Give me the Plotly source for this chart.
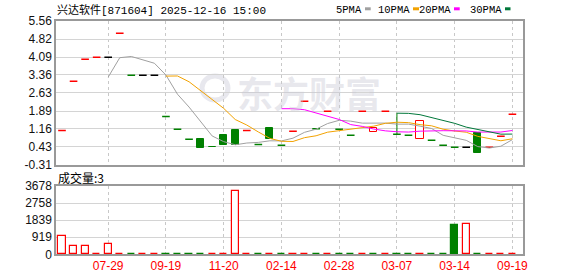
import plotly.graph_objects as go
import pandas as pd

# ---------------- data ----------------
tick_pos = [4, 9, 14, 19, 24, 29, 34, 39]
tick_labels = ["07-29", "09-19", "11-20", "02-14", "02-28", "03-07", "03-14", "09-19"]

opens = [1.10, 3.10, 4.00, 4.08, 4.08, 5.06, 3.35, 3.35, 3.35, 1.67,
         1.15, 0.74, 0.75, 0.42, 0.91, 1.12, 1.10, 0.53, 1.20, 0.49,
         1.07, 2.29, 1.17, 1.88, 1.15, 0.90, 1.88, 1.02, 1.88, 0.94,
         0.90, 0.74, 0.70, 0.49, 0.41, 0.41, 1.00, 0.41, 0.86, 1.76]
closes = [1.10, 3.10, 4.00, 4.08, 4.08, 5.06, 3.35, 3.35, 3.35, 1.67,
          1.15, 0.74, 0.40, 0.41, 0.51, 0.51, 1.10, 0.53, 0.73, 0.49,
          1.07, 2.29, 1.17, 1.88, 1.15, 0.90, 1.88, 1.18, 1.88, 0.94,
          0.90, 1.47, 0.70, 0.49, 0.41, 0.41, 0.19, 0.41, 0.86, 1.76]
highs = [max(o, c) for o, c in zip(opens, closes)]
highs[29] = 1.80
lows = [min(o, c) for o, c in zip(opens, closes)]
volumes = [970, 450, 450, 4, 560, 5, 3, 4, 2, 6,
           5, 4, 6, 3, 5, 3390, 4, 3, 6, 4,
           5, 6, 3, 4, 3, 2, 4, 6, 3, 5,
           3, 6, 4, 5, 1580, 1630, 6, 4, 3, 3]

price_ticks = ["5.56", "4.82", "4.09", "3.36", "2.63", "1.89", "1.16", "0.43", "-0.31"]
vol_ticks = ["0", "919", "1839", "2758", "3678"]

title_text = "兴达软件[871604] 2025-12-16 15:00"
vol_label = "成交量:3"
ma_periods = [5, 10, 20, 30]
ma_names = ["5PMA", "10PMA", "20PMA", "30PMA"]

# ---------------- styles ----------------
RED = "#ff0000"
GREEN = "#008000"
BLACK = "#000000"
MA_COLORS = ["#a0a0a0", "#f2a200", "#ff00ff", "#00773a"]
W, H = 578, 276
X0, X1 = 56, 522.7
MAIN_T, MAIN_B = 21, 165
VOL_T, VOL_B = 186, 254.3
n = len(closes)
idx = list(range(n))

def px_x(p):
    return p / W

def px_y(p):
    return 1 - p / H

# direction of each candle
body_dir = []
for i in range(n):
    o, c = opens[i], closes[i]
    prev = closes[i - 1] if i > 0 else None
    if c > o:
        body_dir.append("up")
    elif c < o:
        body_dir.append("down")
    else:
        if prev is None or c > prev:
            body_dir.append("dup")
        elif c < prev:
            body_dir.append("ddown")
        else:
            body_dir.append("dflat")

vol_up = [True if i == 0 else closes[i] >= closes[i - 1] for i in range(n)]

fig = go.Figure()

# wicks
wx, wy = [], []
for i in range(n):
    if highs[i] > max(opens[i], closes[i]) or lows[i] < min(opens[i], closes[i]):
        wx += [i, i, None]
        wy += [lows[i], highs[i], None]
fig.add_trace(go.Scatter(x=wx, y=wy, mode="lines", line=dict(color=GREEN, width=1),
                         xaxis="x", yaxis="y", hoverinfo="skip", showlegend=False))

# bodies (non-doji)
bx, bbase, bh, bfill, bline = [], [], [], [], []
for i in range(n):
    if body_dir[i] in ("up", "down"):
        bx.append(i)
        bbase.append(min(opens[i], closes[i]))
        bh.append(abs(closes[i] - opens[i]))
        up = body_dir[i] == "up"
        bfill.append("#ffffff" if up else GREEN)
        bline.append(RED if up else GREEN)
fig.add_trace(go.Bar(x=bx, y=bh, base=bbase, width=0.62,
                     marker=dict(color=bfill, line=dict(color=bline, width=1)),
                     xaxis="x", yaxis="y", hoverinfo="skip", showlegend=False))

# doji dashes
for key, col in (("dup", RED), ("ddown", GREEN), ("dflat", BLACK)):
    dx, dy = [], []
    for i in range(n):
        if body_dir[i] == key:
            dx += [i - 0.33, i + 0.33, None]
            dy += [closes[i], closes[i], None]
    fig.add_trace(go.Scatter(x=dx, y=dy, mode="lines", line=dict(color=col, width=1.5),
                             xaxis="x", yaxis="y", hoverinfo="skip", showlegend=False))

# moving averages
s = pd.Series(closes)
for p, col in zip(ma_periods, MA_COLORS):
    ma = s.rolling(p).mean()
    fig.add_trace(go.Scatter(x=idx, y=[None if pd.isna(v) else v for v in ma],
                             mode="lines", line=dict(color=col, width=1),
                             xaxis="x", yaxis="y", hoverinfo="skip", showlegend=False))

# volume
fig.add_trace(go.Bar(x=idx, y=volumes, width=0.62,
                     marker=dict(color=["#ffffff" if u else GREEN for u in vol_up],
                                 line=dict(color=[RED if u else GREEN for u in vol_up], width=1.2)),
                     xaxis="x2", yaxis="y2", hoverinfo="skip", showlegend=False))

axis_common = dict(showline=True, mirror=True, linecolor="#999999", linewidth=1.5,
                   zeroline=False, fixedrange=True, automargin=False)
xdom = [px_x(X0), px_x(X1)]
xrange = [-0.52, 39.89]

fig.update_layout(
    width=W, height=H, margin=dict(l=0, r=0, t=0, b=0, autoexpand=False),
    paper_bgcolor="white", plot_bgcolor="rgba(0,0,0,0)",
    showlegend=False, bargap=0, barmode="overlay",
    xaxis=dict(domain=xdom, range=xrange, anchor="y", tickvals=tick_pos,
               showticklabels=False, showgrid=True, gridcolor="#c8c8c8",
               griddash="3px,3px", gridwidth=1, ticks="", **axis_common),
    yaxis=dict(domain=[px_y(MAIN_B), px_y(MAIN_T)], range=[-0.31, 5.56], anchor="x",
               tickvals=[float(t) for t in price_ticks], ticktext=price_ticks,
               showgrid=True, gridcolor="#d4d4d4", gridwidth=1, ticks="",
               tickfont=dict(family="Liberation Sans, Arial", size=12, color="#111111"),
               **axis_common),
    xaxis2=dict(domain=xdom, range=xrange, anchor="y2", tickvals=tick_pos,
                ticktext=tick_labels, showgrid=True, gridcolor="#c8c8c8",
                griddash="3px,3px", gridwidth=1, ticks="",
                tickfont=dict(family="Liberation Sans, Arial", size=12, color=RED),
                **axis_common),
    yaxis2=dict(domain=[px_y(VOL_B), px_y(VOL_T)], range=[0, 3678], anchor="x2",
                tickvals=[float(t) for t in vol_ticks], ticktext=vol_ticks,
                showgrid=True, gridcolor="#d4d4d4", gridwidth=1, ticks="",
                tickfont=dict(family="Liberation Sans, Arial", size=12, color="#111111"),
                **axis_common),
)

annotations = [
    dict(text=title_text, x=px_x(55), y=px_y(10), xref="paper", yref="paper",
         xanchor="left", yanchor="middle", showarrow=False,
         font=dict(family="Liberation Mono, Noto Sans CJK SC", size=11, color="#000")),
    dict(text=vol_label, x=px_x(56), y=px_y(177.5), xref="paper", yref="paper",
         xanchor="left", yanchor="middle", showarrow=False,
         font=dict(family="Noto Sans CJK SC", size=12, color="#000")),
    # watermark text
    dict(text="<b>东方财富</b>", x=px_x(309), y=px_y(92), xref="paper", yref="paper",
         xanchor="center", yanchor="middle", showarrow=False,
         font=dict(family="Noto Sans CJK SC", size=36, color="rgba(200,200,212,0.42)")),
]
legend_text_end = [364, 411.5, 453, 503.5]
legend_sw_x = [(365, 370.7), (413, 419), (454, 459.7), (505, 510.5)]
shapes = []
for name, tx, (sx0, sx1), col in zip(ma_names, legend_text_end, legend_sw_x, MA_COLORS):
    annotations.append(dict(text=name, x=px_x(tx), y=px_y(9.5), xref="paper", yref="paper",
                            xanchor="right", yanchor="middle", showarrow=False,
                            font=dict(family="Liberation Mono", size=10.5, color="#000")))
    shapes.append(dict(type="rect", xref="paper", yref="paper",
                       x0=px_x(sx0), x1=px_x(sx1), y0=px_y(10.3), y1=px_y(7.3),
                       fillcolor=col, line=dict(width=0)))

# watermark logo
shapes.append(dict(type="circle", xref="paper", yref="paper", layer="below",
                   x0=px_x(202), x1=px_x(228), y0=px_y(100), y1=px_y(76),
                   line=dict(width=5, color="#e8e8ee"), fillcolor="rgba(0,0,0,0)"))

fig.update_layout(annotations=annotations, shapes=shapes)
fig.write_html("out.html")
